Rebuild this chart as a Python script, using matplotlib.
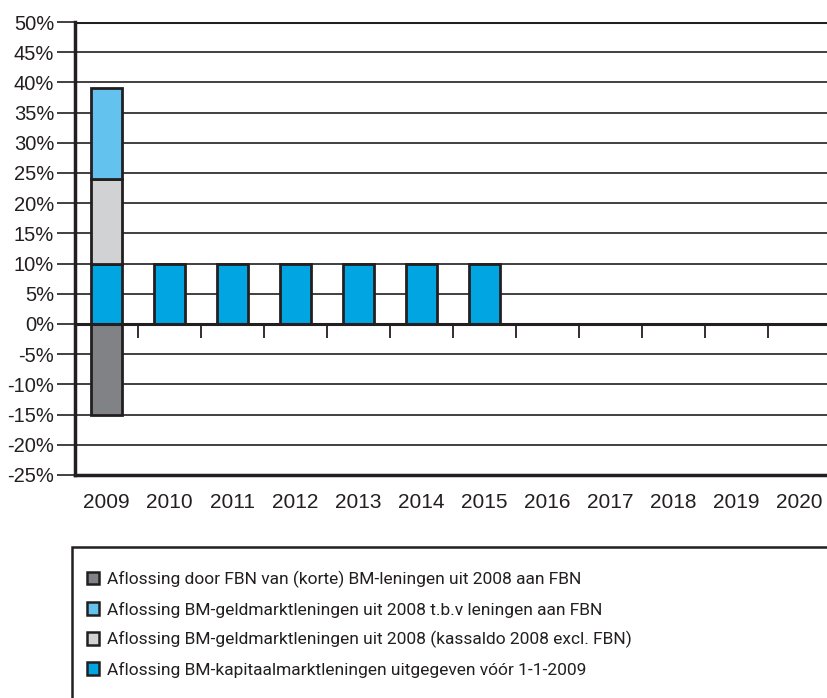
import numpy as np
import matplotlib.pyplot as plt
from matplotlib.patches import Rectangle

years = ['2009', '2010', '2011', '2012', '2013', '2014', '2015',
         '2016', '2017', '2018', '2019', '2020']

# percentages per year
kapitaal = [10, 10, 10, 10, 10, 10, 10, 0, 0, 0, 0, 0]
kassaldo = [14, 0, 0, 0, 0, 0, 0, 0, 0, 0, 0, 0]
tbv_fbn = [15, 0, 0, 0, 0, 0, 0, 0, 0, 0, 0, 0]
door_fbn = [-15, 0, 0, 0, 0, 0, 0, 0, 0, 0, 0, 0]

labels = [
    'Aflossing door FBN van (korte) BM-leningen uit 2008 aan FBN',
    'Aflossing BM-geldmarktleningen uit 2008 t.b.v leningen aan FBN',
    'Aflossing BM-geldmarktleningen uit 2008 (kassaldo 2008 excl. FBN)',
    'Aflossing BM-kapitaalmarktleningen uitgegeven vóór 1-1-2009',
]
c_fbn = '#808285'
c_tbv = '#64c2ee'
c_kas = '#d1d2d4'
c_kap = '#00a5e1'
edge = '#231f20'

plt.rcParams['font.family'] = ['Liberation Sans', 'DejaVu Sans']

fig = plt.figure(figsize=(8.28, 6.98), dpi=100)
ax = fig.add_axes([75 / 828, 1 - 475 / 698, 756 / 828, (475 - 22) / 698])

x = np.arange(len(years))
w = 0.48
kap = np.array(kapitaal)
kas = np.array(kassaldo)
tbv = np.array(tbv_fbn)
fbn = np.array(door_fbn)

mask = kap != 0
b_kap = ax.bar(x[mask], kap[mask], w, color=c_kap, edgecolor=edge, linewidth=2, zorder=3)
m2 = kas != 0
b_kas = ax.bar(x[m2], kas[m2], w, bottom=kap[m2], color=c_kas, edgecolor=edge, linewidth=2, zorder=3)
m3 = tbv != 0
b_tbv = ax.bar(x[m3], tbv[m3], w, bottom=(kap + kas)[m3], color=c_tbv, edgecolor=edge, linewidth=2, zorder=3)
m4 = fbn != 0
b_fbn = ax.bar(x[m4], fbn[m4], w, color=c_fbn, edgecolor=edge, linewidth=2, zorder=3)

ax.set_xlim(-0.5, len(years) - 0.5)
ax.set_ylim(-25, 50)
yt = np.arange(-25, 51, 5)
ax.set_yticks(yt)
ax.set_yticklabels([f'{v}%' for v in yt])
ax.yaxis.grid(True, color='#231f20', linewidth=1.2, zorder=1)
ax.set_axisbelow(True)
ax.axhline(0, color=edge, linewidth=2.2, zorder=4)
ax.axhline(50, color=edge, linewidth=2.2, zorder=4)

# boundary ticks below the zero line
ax.vlines(x[:-1] + 0.5, -2.3, 0, color=edge, linewidth=1.3, zorder=4)

ax.set_xticks(x)
ax.set_xticklabels(years)
ax.tick_params(axis='x', length=0, pad=13, labelsize=15, colors='#231f20')
ax.tick_params(axis='y', length=13, width=1.2, pad=2, labelsize=14.5, colors='#231f20')

for s in ['top', 'right']:
    ax.spines[s].set_visible(False)
ax.spines['left'].set_linewidth(2.5)
ax.spines['bottom'].set_linewidth(2.5)
ax.spines['left'].set_color(edge)
ax.spines['bottom'].set_color(edge)

# legend box
fig.patches.append(Rectangle((72 / 828, -0.05), 1.0, 0.05 + 1 - 547 / 698,
                             transform=fig.transFigure, fill=False,
                             edgecolor=edge, linewidth=1.8))
leg = fig.legend([b_fbn, b_tbv, b_kas, b_kap], labels,
                 loc='upper left', bbox_to_anchor=(80 / 828, 1 - 564 / 698),
                 frameon=False, handlelength=0.72, handleheight=0.72,
                 handletextpad=0.45, labelspacing=0.77, borderaxespad=0,
                 prop={'family': ['Roboto', 'Liberation Sans'], 'size': 12.5})
for t in leg.get_texts():
    t.set_color('#231f20')
for h in leg.legend_handles:
    h.set_linewidth(1.8)

fig.savefig('out.png', dpi=100)
